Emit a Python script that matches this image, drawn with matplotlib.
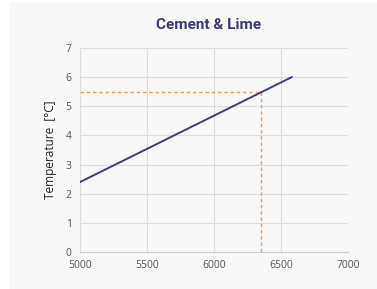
import matplotlib
matplotlib.use("Agg")
import matplotlib.pyplot as plt
from matplotlib.patches import Rectangle

# Data
line_x = [5000, 6580]
line_y = [2.4, 6.0]
mark_x = 6350
mark_y = 5.5
x_ticks = [5000, 5500, 6000, 6500, 7000]
y_ticks = [0, 1, 2, 3, 4, 5, 6, 7]
title = "Cement & Lime"
ylabel = "Temperature  [°C]"

W, H = 377, 289
fig = plt.figure(figsize=(W / 100, H / 100), dpi=100)
fig.patch.set_facecolor("white")
panel = Rectangle((9 / W, 0), 1 - 9 / W, 1 - 3 / H, transform=fig.transFigure,
                  facecolor="#f8f8f8", edgecolor="none", zorder=-10)
fig.patches.append(panel)

ax = fig.add_axes([80 / W, 37 / H, 268 / W, 204 / H])
ax.set_zorder(1)
ax.set_facecolor("#f8f8f8")
ax.plot(line_x, line_y, color="#3f3d7e", lw=1.4, zorder=3)
ax.plot([x_ticks[0], mark_x], [mark_y, mark_y], color="#f0a050", lw=1.0,
        ls=(0, (2.5, 2)), zorder=2)
ax.plot([mark_x, mark_x], [mark_y, 0], color="#f0a050", lw=1.0,
        ls=(0, (2.5, 2)), zorder=2)

ax.set_xlim(x_ticks[0], x_ticks[-1])
ax.set_ylim(y_ticks[0], y_ticks[-1])
ax.set_xticks(x_ticks)
ax.set_yticks(y_ticks)
ax.grid(True, color="#dddddd", lw=0.8)
ax.set_axisbelow(True)
for s in ["top", "right", "left"]:
    ax.spines[s].set_visible(False)
ax.spines["bottom"].set_color("#d0d0d0")
ax.tick_params(length=0, colors="#555555", labelsize=7.5, pad=6)
for lab in ax.get_xticklabels() + ax.get_yticklabels():
    lab.set_fontfamily("Open Sans")

ax.set_ylabel(ylabel, fontsize=8.5, color="#222222", fontfamily="Open Sans", labelpad=6)
fig.text(209 / W, 1 - 25 / H, title, ha="center", va="center", fontsize=11,
         fontweight="bold", color="#3d3a7a", fontfamily="Roboto")

fig.savefig("out.png", dpi=100, facecolor=fig.get_facecolor())
